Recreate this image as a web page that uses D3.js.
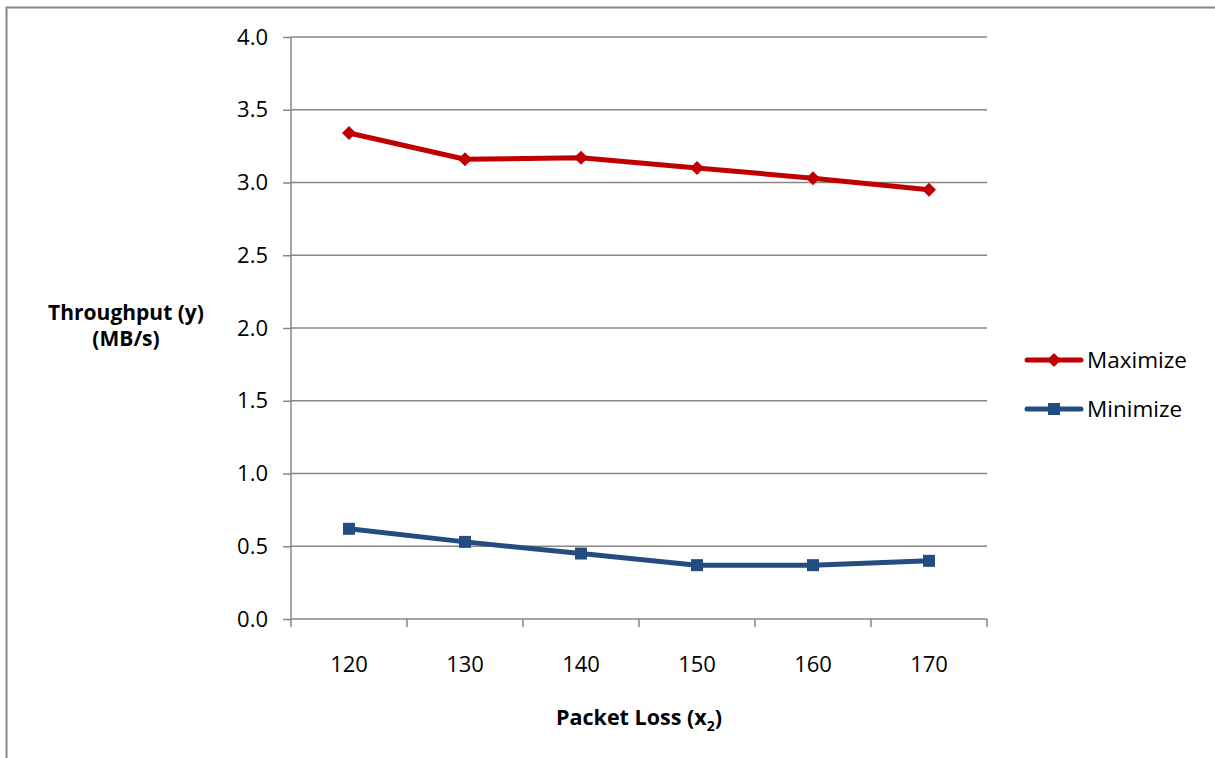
<!DOCTYPE html>
<html>
<head>
<meta charset="utf-8">
<script src="https://cdn.jsdelivr.net/npm/d3@7"></script>
<style>
  html, body { margin: 0; padding: 0; background: #fff; }
  svg { display: block; }
  text { font-family: "Open Sans", "Noto Sans", sans-serif; fill: #000; }
</style>
</head>
<body>
<script>
// Packet loss settings on the category axis
const categories = [120, 130, 140, 150, 160, 170];
// Throughput (MB/s) for each objective
const maximizeValues = [3.34, 3.16, 3.17, 3.10, 3.03, 2.95];
const minimizeValues = [0.62, 0.53, 0.45, 0.37, 0.37, 0.40];
const yTicks = [0, 0.5, 1.0, 1.5, 2.0, 2.5, 3.0, 3.5, 4.0];
const seriesNames = ["Maximize", "Minimize"];

const W = 1215, H = 758;
const plot = { left: 291, right: 987, top: 37, bottom: 619 };
const gridColor = "#868686";
const tickFont = 22;

const svg = d3.select("body").append("svg")
  .attr("width", W).attr("height", H);

// chart frame (top and left edges visible)
svg.append("path")
  .attr("d", `M6.5,${H} L6.5,7.5 L${W},7.5`)
  .attr("fill", "none").attr("stroke", gridColor).attr("stroke-width", 2);

const x = d3.scaleBand().domain(categories).range([plot.left, plot.right]).padding(0);
const y = d3.scaleLinear().domain([0, 4]).range([plot.bottom, plot.top]);

// horizontal gridlines
svg.append("g").selectAll("line").data(yTicks.filter(d => d > 0)).join("line")
  .attr("x1", plot.left).attr("x2", plot.right)
  .attr("y1", d => y(d)).attr("y2", d => y(d))
  .attr("stroke", gridColor).attr("stroke-width", 1.5);

// y axis
const yAxis = svg.append("g").attr("transform", `translate(${plot.left},0)`)
  .call(d3.axisLeft(y).tickValues(yTicks).tickFormat(d3.format(".1f")).tickSize(8).tickPadding(15));
yAxis.select(".domain").attr("stroke", gridColor).attr("stroke-width", 1.5).attr("d", `M0,${plot.top}V${plot.bottom}`);
yAxis.selectAll(".tick line").attr("stroke", gridColor).attr("stroke-width", 1.5);
yAxis.selectAll(".tick text").attr("font-size", tickFont).attr("fill", "#000");

// x axis with tick marks between categories
const xAxisG = svg.append("g").attr("transform", `translate(0,${plot.bottom})`);
xAxisG.append("line").attr("x1", plot.left).attr("x2", plot.right)
  .attr("stroke", gridColor).attr("stroke-width", 1.5);
const boundaries = categories.map(c => x(c)).concat([plot.right]);
xAxisG.selectAll("line.tk").data(boundaries).join("line").attr("class", "tk")
  .attr("x1", d => d).attr("x2", d => d).attr("y1", 0).attr("y2", 8)
  .attr("stroke", gridColor).attr("stroke-width", 1.5);
xAxisG.selectAll("text").data(categories).join("text")
  .attr("x", d => x(d) + x.bandwidth() / 2).attr("y", 53)
  .attr("text-anchor", "middle").attr("font-size", tickFont)
  .text(d => d);

// series
const series = [
  { name: seriesNames[0], values: maximizeValues, color: "#C00000", marker: "diamond" },
  { name: seriesNames[1], values: minimizeValues, color: "#234C80", marker: "square" }
];
const line = d3.line()
  .x((d, i) => x(categories[i]) + x.bandwidth() / 2)
  .y(d => y(d));

function drawMarker(g, type, color) {
  if (type === "diamond") {
    g.append("path").attr("d", "M0,-7 L7,0 L0,7 L-7,0 Z").attr("fill", color);
  } else {
    g.append("rect").attr("x", -6).attr("y", -6).attr("width", 12).attr("height", 12).attr("fill", color);
  }
}

series.forEach(s => {
  svg.append("path").datum(s.values)
    .attr("d", line).attr("fill", "none")
    .attr("stroke", s.color).attr("stroke-width", 5).attr("stroke-linejoin", "round");
  s.values.forEach((v, i) => {
    const g = svg.append("g")
      .attr("transform", `translate(${x(categories[i]) + x.bandwidth() / 2},${y(v)})`);
    drawMarker(g, s.marker, s.color);
  });
});

// legend
const legendY = [360, 409];
series.forEach((s, i) => {
  const g = svg.append("g").attr("transform", `translate(1027,${legendY[i]})`);
  g.append("line").attr("x1", 0).attr("x2", 54).attr("stroke", s.color)
    .attr("stroke-width", 5).attr("stroke-linecap", "round");
  const m = g.append("g").attr("transform", "translate(27,0)");
  drawMarker(m, s.marker, s.color);
  g.append("text").attr("x", 60).attr("y", 8).attr("font-size", 22.5).text(s.name);
});

// axis titles: the y title is two separate lines
svg.append("text").attr("x", 126).attr("y", 320)
  .attr("text-anchor", "middle")
  .attr("font-size", 21).attr("font-weight", "bold").text("Throughput (y)");
svg.append("text").attr("x", 126).attr("y", 346)
  .attr("text-anchor", "middle")
  .attr("font-size", 21).attr("font-weight", "bold").text("(MB/s)");

const xTitle = svg.append("text").attr("x", (plot.left + plot.right) / 2).attr("y", 725)
  .attr("text-anchor", "middle").attr("font-size", 21.5).attr("font-weight", "bold");
xTitle.append("tspan").text("Packet Loss (x");
xTitle.append("tspan").attr("font-size", 14).attr("dy", 6).text("2");
xTitle.append("tspan").attr("dy", -6).text(")");
</script>
</body>
</html>
